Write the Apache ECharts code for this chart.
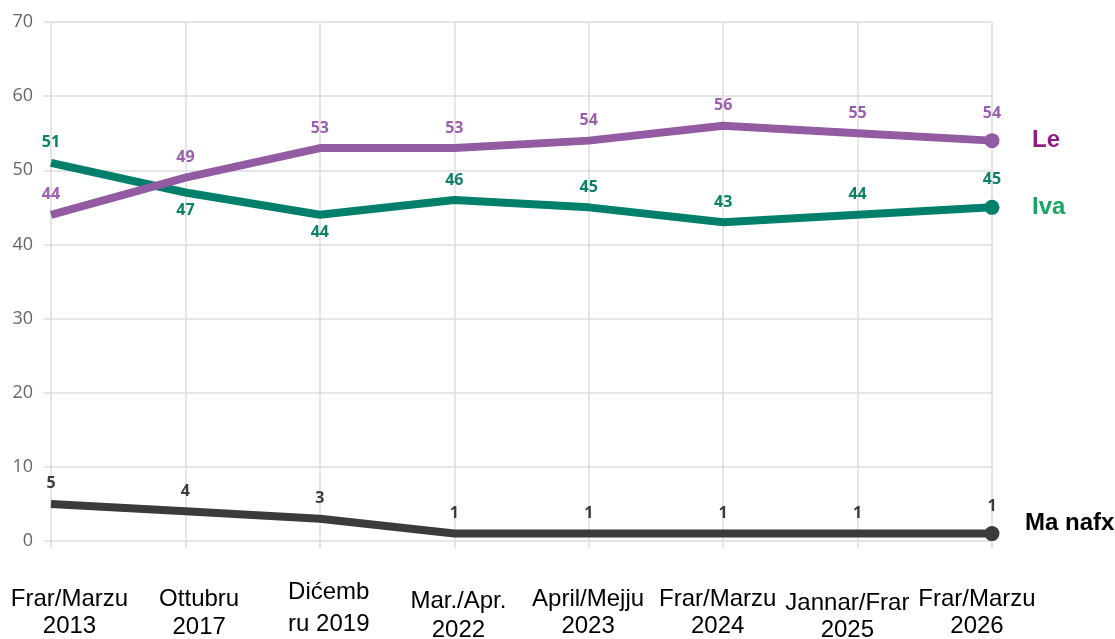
<!DOCTYPE html>
<html>
<head>
<meta charset="utf-8">
<script src="https://cdn.jsdelivr.net/npm/echarts@6/dist/echarts.min.js"></script>
<style>
  html, body { margin: 0; padding: 0; background: #fff; }
  #chart { width: 1115px; height: 639px; }
</style>
</head>
<body>
<div id="chart"></div>
<script>
// Survey waves (x axis)
const categories = [
  'Frar/Marzu\n2013', 'Ottubru\n2017', 'Dićemb\nru 2019', 'Mar./Apr.\n2022',
  'April/Mejju\n2023', 'Frar/Marzu\n2024', 'Jannar/Frar\n2025', 'Frar/Marzu\n2026'
];
// Series values (%)
const le = [44, 49, 53, 53, 54, 56, 55, 54];
const iva = [51, 47, 44, 46, 45, 43, 44, 45];
const maNafx = [5, 4, 3, 1, 1, 1, 1, 1];
// Y axis ticks
const yTicks = [0, 10, 20, 30, 40, 50, 60, 70];

// Styling
const PURPLE = '#935ba2';
const PURPLE_LABEL = '#9a61aa';
const PURPLE_NAME = '#8c1f7f';
const GREEN = '#00806a';
const GREEN_LABEL = '#0d7f69';
const GREEN_NAME = '#1aa562';
const DARK = '#3b3b3d';
const GRID = '#dddddd';
const IVA_BELOW = [1, 2];                              // Iva labels drawn under the line
const X_LABEL_PAD = [8.6, 8.3, 0, 10.5, 8.8, 8.8, 12.8, 8.8]; // top padding per wave label
const X_LABEL_LH = [27.5, 28, 31.5, 28.5, 27, 27, 27, 27];     // line height per wave label

const last = categories.length - 1;

function endSymbolSize(v, p) { return p.dataIndex === last ? 15 : 0; }

const valueLabel = (color) => ({
  show: true,
  position: 'top',
  distance: 12,
  color: color,
  fontFamily: 'Open Sans',
  fontWeight: 'bold',
  fontSize: 16
});

const nameLabel = (text, color, distance, offset) => ({
  show: true, formatter: text, distance: distance, offset: offset,
  color: color, fontFamily: 'Liberation Sans', fontWeight: 'bold', fontSize: 24
});

const chart = echarts.init(document.getElementById('chart'), null, { renderer: 'canvas' });

chart.setOption({
  animation: false,
  backgroundColor: '#ffffff',
  grid: [
    // plot area
    { left: 51, right: 123, top: 22, bottom: 98, outerBoundsMode: 'none' },
    // band that carries the wave names under the plot
    { left: 69.5, right: 138, top: 22, bottom: 98, outerBoundsMode: 'none' }
  ],
  xAxis: [
    {
      type: 'category',
      gridIndex: 0,
      boundaryGap: false,
      data: categories,
      axisLine: { show: false },
      axisTick: { show: true, length: 7, alignWithLabel: true, lineStyle: { color: GRID, width: 1.5 } },
      axisLabel: { show: false },
      splitLine: { show: true, lineStyle: { color: GRID, width: 1.5 } }
    },
    {
      type: 'category',
      gridIndex: 1,
      boundaryGap: false,
      data: categories.map((c, i) => ({
        value: c,
        textStyle: { padding: [X_LABEL_PAD[i], 0, 0, 0], lineHeight: X_LABEL_LH[i] }
      })),
      axisLine: { show: false },
      axisTick: { show: false },
      splitLine: { show: false },
      axisLabel: {
        show: true, interval: 0, margin: 36, color: '#000000',
        fontFamily: 'Liberation Sans', fontSize: 24, lineHeight: 27.5,
        verticalAlign: 'top'
      }
    }
  ],
  yAxis: [
    {
      type: 'value',
      gridIndex: 0,
      min: yTicks[0],
      max: yTicks[yTicks.length - 1],
      interval: yTicks[1] - yTicks[0],
      axisLine: { show: false },
      axisTick: { show: true, length: 7, lineStyle: { color: GRID, width: 1.5 } },
      axisLabel: { color: '#666666', fontFamily: 'Open Sans', fontSize: 18, margin: 18 },
      splitLine: { show: true, lineStyle: { color: GRID, width: 1.5 } }
    },
    {
      type: 'value',
      gridIndex: 1,
      min: yTicks[0],
      max: yTicks[yTicks.length - 1],
      show: false
    }
  ],
  series: [
    {
      name: 'Iva',
      type: 'line',
      data: iva.map((v, i) => ({
        value: v,
        label: { position: IVA_BELOW.includes(i) ? 'bottom' : 'top', distance: IVA_BELOW.includes(i) ? 10 : 12 }
      })),
      symbol: 'circle',
      symbolSize: endSymbolSize,
      lineStyle: { color: GREEN, width: 8 },
      itemStyle: { color: GREEN },
      label: valueLabel(GREEN_LABEL),
      z: 3,
      endLabel: nameLabel('Iva', GREEN_NAME, 40, [0, 0])
    },
    {
      name: 'Le',
      type: 'line',
      data: le,
      symbol: 'circle',
      symbolSize: endSymbolSize,
      lineStyle: { color: PURPLE, width: 8 },
      itemStyle: { color: PURPLE },
      label: valueLabel(PURPLE_LABEL),
      z: 4,
      endLabel: nameLabel('Le', PURPLE_NAME, 40, [0, 0])
    },
    {
      name: 'Ma nafx',
      type: 'line',
      data: maNafx,
      symbol: 'circle',
      symbolSize: endSymbolSize,
      lineStyle: { color: DARK, width: 8 },
      itemStyle: { color: DARK },
      label: valueLabel(DARK),
      z: 3,
      endLabel: nameLabel('Ma nafx', '#000000', 33, [0, -10])
    }
  ]
});
</script>
</body>
</html>
